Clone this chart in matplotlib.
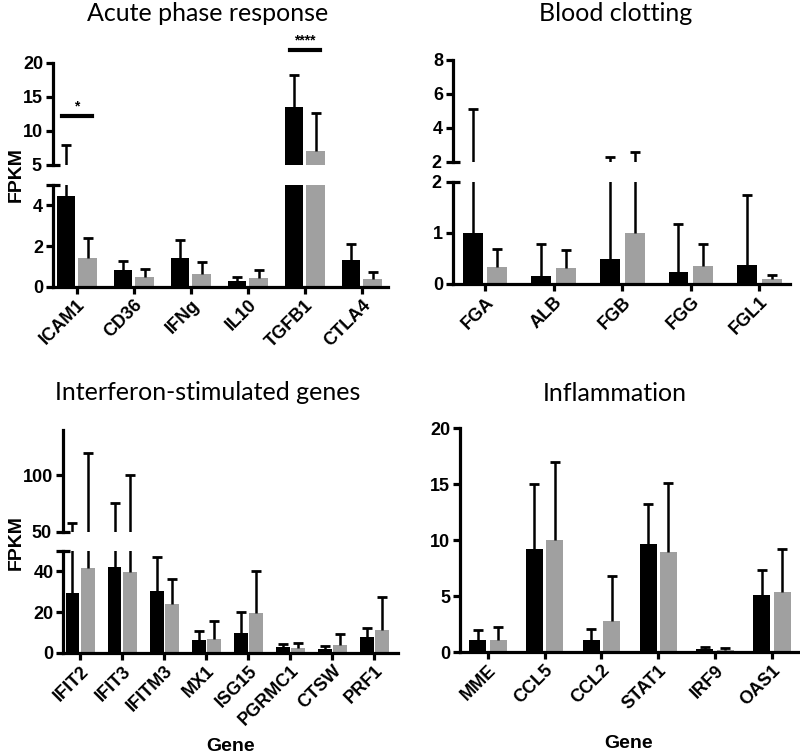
import numpy as np
import matplotlib
matplotlib.use('Agg')
import matplotlib.pyplot as plt

plt.rcParams['font.family'] = 'Liberation Sans'
plt.rcParams['font.weight'] = 'bold'
plt.rcParams['axes.labelweight'] = 'bold'

# Acute phase response (bar height and top of error bar)
acute_genes = ['ICAM1', 'CD36', 'IFNg', 'IL10', 'TGFB1', 'CTLA4']
acute_black = [4.45, 0.84, 1.43, 0.3, 13.5, 1.33]
acute_black_top = [7.9, 1.25, 2.32, 0.49, 18.2, 2.12]
acute_gray = [1.43, 0.49, 0.64, 0.46, 7.06, 0.4]
acute_gray_top = [2.42, 0.89, 1.23, 0.84, 12.6, 0.74]
acute_sig = [(0, 12.2, '*'), (4, 21.9, '****')]

# Blood clotting
blood_genes = ['FGA', 'ALB', 'FGB', 'FGG', 'FGL1']
blood_black = [1.0, 0.16, 0.49, 0.24, 0.37]
blood_black_top = [5.1, 0.78, 2.31, 1.18, 1.75]
blood_gray = [0.34, 0.31, 1.0, 0.36, 0.1]
blood_gray_top = [0.69, 0.67, 2.59, 0.78, 0.18]

# Interferon-stimulated genes
ifn_genes = ['IFIT2', 'IFIT3', 'IFITM3', 'MX1', 'ISG15', 'PGRMC1', 'CTSW', 'PRF1']
ifn_black = [29.4, 42.3, 30.5, 6.5, 9.5, 2.8, 1.8, 7.8]
ifn_black_top = [57.5, 75.3, 47.2, 10.6, 20.0, 4.4, 3.3, 12.2]
ifn_gray = [41.8, 39.4, 24.0, 7.0, 19.6, 2.3, 3.8, 11.4]
ifn_gray_top = [120.0, 100.0, 36.2, 15.8, 40.0, 4.9, 9.3, 27.3]

# Inflammation
infl_genes = ['MME', 'CCL5', 'CCL2', 'STAT1', 'IRF9', 'OAS1']
infl_black = [1.04, 9.2, 1.1, 9.67, 0.24, 5.1]
infl_black_top = [2.0, 15.0, 2.1, 13.2, 0.45, 7.3]
infl_gray = [1.1, 9.97, 2.8, 8.9, 0.18, 5.4]
infl_gray_top = [2.23, 17.0, 6.75, 15.1, 0.36, 9.2]

LW = 2.3
GRAY = '#a0a0a0'
TICKSIZE = 13


def draw_bars(ax, genes, black, black_top, gray, gray_top, width, off):
    x = np.arange(len(genes))
    for xs, vals, tops, col in ((x - off, black, black_top, 'black'),
                                (x + off, gray, gray_top, GRAY)):
        ax.bar(xs, vals, width, color=col)
        # only the upper half of the error bar, as in the original
        ax.vlines(xs, vals, tops, color='black', lw=1.8)
        ax.plot(xs, tops, ls='none', marker='_', ms=7, mew=2, color='black')


def style(ax, genes, xlim, show_x=True):
    ax.spines['top'].set_visible(False)
    ax.spines['right'].set_visible(False)
    ax.spines['left'].set_linewidth(LW)
    ax.spines['bottom'].set_linewidth(LW)
    ax.tick_params(width=LW, length=5, labelsize=TICKSIZE, pad=2)
    ax.tick_params(axis='y', which='minor', direction='inout', length=10,
                   width=LW, labelsize=TICKSIZE)
    ax.set_xlim(xlim)
    if show_x:
        ax.set_xticks(np.arange(len(genes)))
        ax.set_xticklabels(genes, rotation=45, ha='right', rotation_mode='anchor')
    else:
        ax.spines['bottom'].set_visible(False)
        ax.set_xticks([])


fig = plt.figure(figsize=(8, 7.53), dpi=100)
H = 0.1355

# panel 1 - acute phase response, broken axis
a1_lo = fig.add_axes([0.066, 0.619, 0.419, H])
a1_hi = fig.add_axes([0.066, 0.781, 0.419, H])
for ax in (a1_lo, a1_hi):
    draw_bars(ax, acute_genes, acute_black, acute_black_top, acute_gray, acute_gray_top, 0.32, 0.19)
style(a1_lo, acute_genes, (-0.42, 5.46))
style(a1_hi, acute_genes, (-0.42, 5.46), show_x=False)
a1_lo.set_ylim(0, 5)
a1_lo.set_yticks([0, 2, 4])
a1_lo.set_yticks([5], minor=True)
a1_hi.set_ylim(5, 20)
a1_hi.set_yticks([10, 15, 20])
a1_hi.set_yticks([5], labels=['5'], minor=True)
for gi, yv, txt in acute_sig:
    a1_hi.plot([gi - 0.26, gi + 0.27], [yv, yv], color='black', lw=3, clip_on=False)
    a1_hi.text(gi, yv + 0.4, txt, ha='center', va='bottom', fontsize=10, clip_on=False)

# panel 2 - blood clotting, broken axis
a2_lo = fig.add_axes([0.566, 0.623, 0.421, H])
a2_hi = fig.add_axes([0.566, 0.785, 0.421, H])
for ax in (a2_lo, a2_hi):
    draw_bars(ax, blood_genes, blood_black, blood_black_top, blood_gray, blood_gray_top, 0.29, 0.18)
style(a2_lo, blood_genes, (-0.47, 4.44))
style(a2_hi, blood_genes, (-0.47, 4.44), show_x=False)
a2_lo.set_ylim(0, 2)
a2_lo.set_yticks([0, 1])
a2_lo.set_yticks([2], labels=['2'], minor=True)
a2_hi.set_ylim(2, 8)
a2_hi.set_yticks([4, 6, 8])
a2_hi.set_yticks([2], labels=['2'], minor=True)

# panel 3 - interferon-stimulated genes, broken axis
a3_lo = fig.add_axes([0.079, 0.133, 0.418, H])
a3_hi = fig.add_axes([0.079, 0.2935, 0.418, H])
for ax in (a3_lo, a3_hi):
    draw_bars(ax, ifn_genes, ifn_black, ifn_black_top, ifn_gray, ifn_gray_top, 0.33, 0.18)
style(a3_lo, ifn_genes, (-0.40, 7.55))
style(a3_hi, ifn_genes, (-0.40, 7.55), show_x=False)
a3_lo.set_ylim(0, 50)
a3_lo.set_yticks([0, 20, 40])
a3_lo.set_yticks([50], minor=True)
a3_hi.set_ylim(50, 140)
a3_hi.set_yticks([100])
a3_hi.set_yticks([50], labels=['50'], minor=True)
a3_lo.set_xlabel('Gene', fontsize=14, labelpad=6)

# panel 4 - inflammation
a4 = fig.add_axes([0.575, 0.134, 0.4225, 0.2975])
draw_bars(a4, infl_genes, infl_black, infl_black_top, infl_gray, infl_gray_top, 0.3, 0.18)
style(a4, infl_genes, (-0.49, 5.46))
a4.set_ylim(0, 20)
a4.set_yticks([0, 5, 10, 15, 20])
a4.set_xlabel('Gene', fontsize=14, labelpad=16)

# titles and y labels
tkw = dict(family='Lato', fontweight='normal', fontsize=18, ha='center', va='center')
fig.text(0.26, 0.982, 'Acute phase response', **tkw)
fig.text(0.769, 0.982, 'Blood clotting', **tkw)
fig.text(0.26, 0.479, 'Interferon-stimulated genes', **tkw)
fig.text(0.769, 0.477, 'Inflammation', **tkw)
fig.text(0.02, 0.768, 'FPKM', rotation=90, fontsize=14, ha='center', va='center')
fig.text(0.02, 0.28, 'FPKM', rotation=90, fontsize=14, ha='center', va='center')

fig.savefig('out.png', dpi=100)
